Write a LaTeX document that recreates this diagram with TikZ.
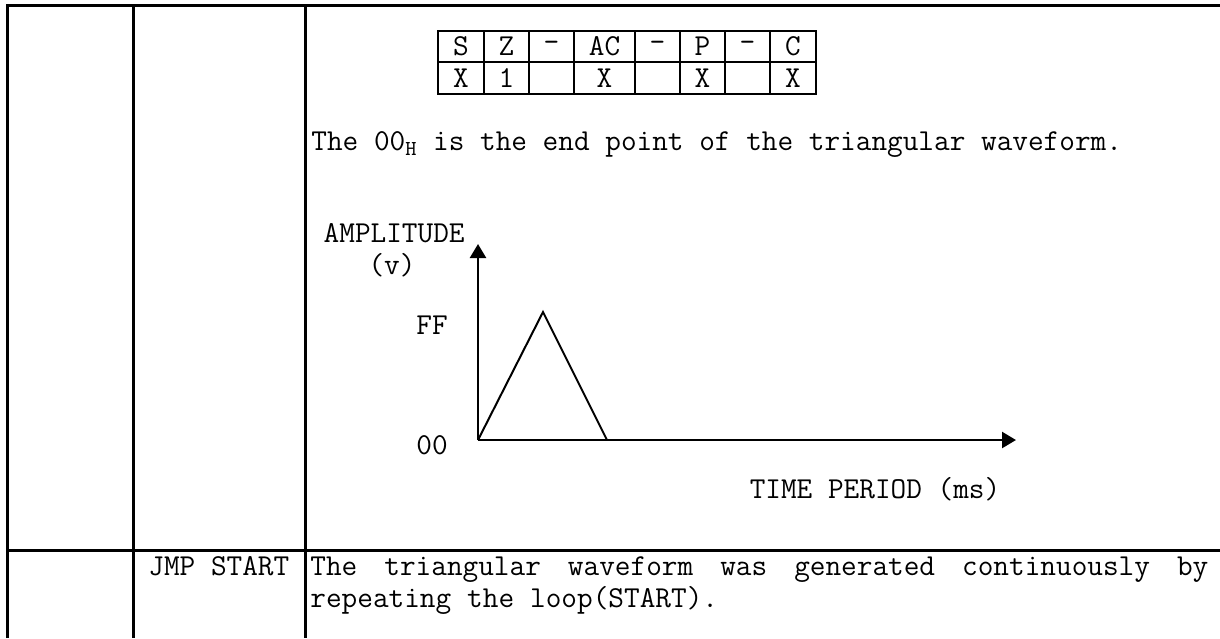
\documentclass[tikz,border=0pt]{standalone}
\usepackage{fontspec}
\usetikzlibrary{arrows.meta, positioning}

\begin{document}
\begin{tikzpicture}[x=0.5pt, y=-0.5pt,
  every node/.style={font=\ttfamily\fontsize{15.2}{16}\selectfont, inner sep=0pt},
  rule/.style={line width=1.5pt},
  cellrule/.style={line width=1.1pt},
  axis/.style={line width=1.2pt, -{Triangle[length=7pt, width=8pt]}}]
  \useasboundingbox (0,0) rectangle (1220,638);
  % program table
  \draw[rule] (7,638) -- (7,5) -- (1220,5);
  \draw[rule] (133,5) -- (133,638);
  \draw[rule] (305,5) -- (305,638);
  \draw[rule] (7,550) -- (1220,550);
  % flag register
  \draw[cellrule] (438,31) rectangle (816,94);
  \draw[cellrule] (438,62) -- (816,62);
  \foreach \x in {484,529,574,635,680,725,770}
    \draw[cellrule] (\x,31) -- (\x,94);
  \foreach \cx/\hd [count=\i] in {461/S, 506.5/Z, 551.5/–, 604.5/AC, 657.5/–, 702.5/P, 747.5/–, 793/C}
    \node (flag\i) at (\cx,46.5) {\hd};
  \foreach \cx/\vl [count=\i] in {461/X, 506.5/1, 604.5/X, 702.5/X, 793/X}
    \node (val\i) at (\cx,78) {\vl};
  \node[anchor=west] (note) at (311,145)
    {The 00\textsubscript{H} is the end point of the triangular waveform.};
  % waveform
  \coordinate (origin) at (478,440);
  \coordinate (yend) at (478,244);
  \coordinate (xend) at (1016,440);
  \coordinate (peak) at (543,312);
  \coordinate (fall) at (607,440);
  \draw[axis] (origin) -- (yend);
  \draw[axis] (origin) -- (xend);
  \draw[line width=1pt] (origin) -- (peak) -- (fall);
  \node[anchor=east] (amp) at (465,233) {AMPLITUDE};
  \node (unit) at (392,265) {(v)};
  \node (ff) at (432,325) {FF};
  \node (zero) at (432,445) {00};
  \node (time) at (875,489) {TIME PERIOD (ms)};
  % last row
  \node[anchor=west] (jmp) at (148,566) {JMP START};
  \node[anchor=north west, text width=449pt, align=justify] (loop) at (310,556)
    {\hyphenpenalty=10000 \spaceskip=0.525em plus 1em
     The triangular waveform was generated continuously by repeating the loop(START).};
\end{tikzpicture}
\end{document}
